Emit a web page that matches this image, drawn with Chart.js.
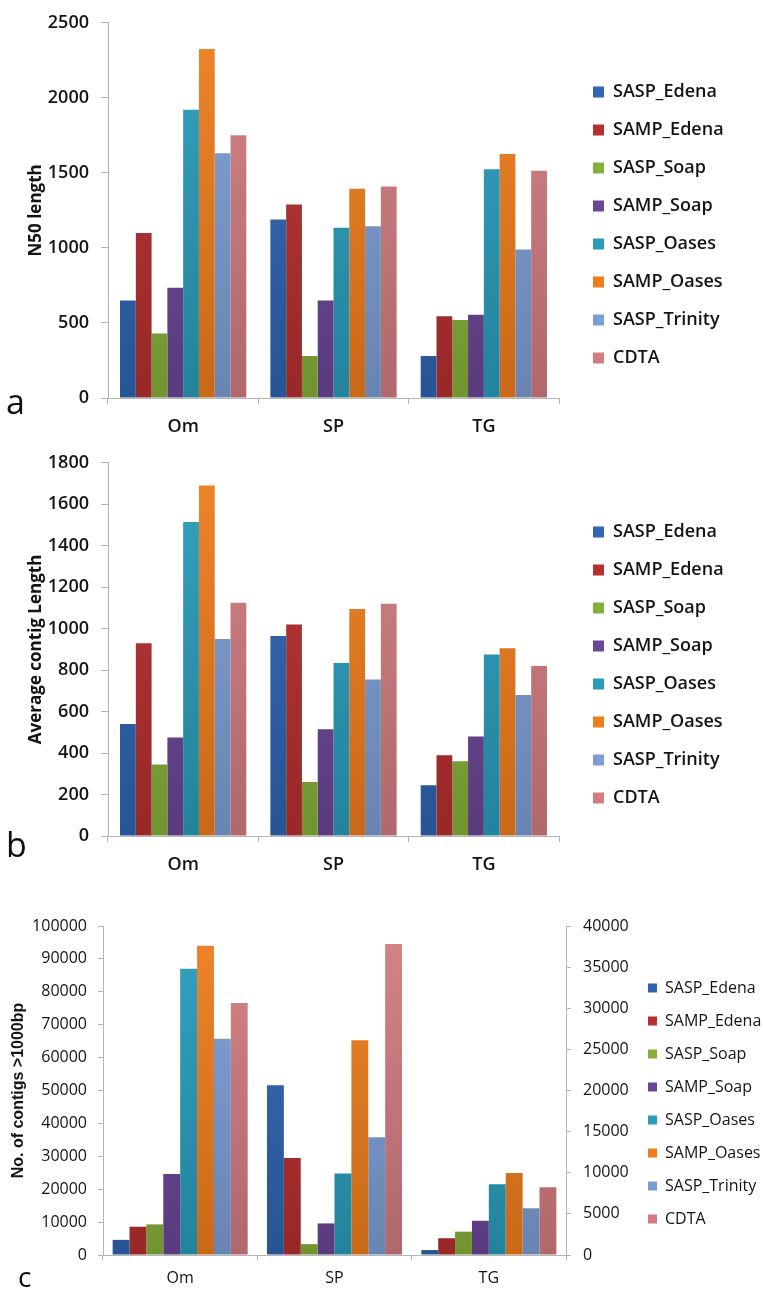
<!DOCTYPE html>
<html>
<head>
<meta charset="utf-8">
<script src="https://cdn.jsdelivr.net/npm/chart.js@4.4.0/dist/chart.umd.min.js"></script>
<style>
  html, body { margin: 0; padding: 0; background: #fff; }
  body { width: 763px; height: 1291px; position: relative; overflow: hidden; }
  canvas { position: absolute; left: 0; }
  .tag { position: absolute; font-family: "Open Sans"; line-height: 1; color: #111; }
</style>
</head>
<body>
<canvas id="chartA" width="800" height="440" style="top:0"></canvas>
<canvas id="chartB" width="800" height="440" style="top:440px"></canvas>
<canvas id="chartC" width="800" height="411" style="top:880px"></canvas>
<div class="tag" style="left:6px;top:384px;font-size:34px">a</div>
<div class="tag" style="left:6px;top:827px;font-size:34px">b</div>
<div class="tag" style="left:18px;top:1262px;font-size:28px">c</div>

<script>
// categories and series
const groups = ['Om', 'SP', 'TG'];
const assemblers = ['SASP_Edena', 'SAMP_Edena', 'SASP_Soap', 'SAMP_Soap',
                    'SASP_Oases', 'SAMP_Oases', 'SASP_Trinity', 'CDTA'];
const barColors = ['#2f64b0', '#b52f2f', '#86b03a', '#6a4696',
                   '#2a9cbb', '#ee7d1c', '#7c9dd4', '#d27c7f'];

// a: N50 length (one row per group, values in assembler order)
const n50Om = [650, 1100, 430, 735, 1920, 2325, 1630, 1750];
const n50SP = [1190, 1290, 280, 650, 1135, 1395, 1145, 1410];
const n50TG = [280, 545, 520, 555, 1525, 1625, 990, 1515];
const n50Ticks = [0, 500, 1000, 1500, 2000, 2500];

// b: average contig length
const avgOm = [540, 930, 345, 475, 1515, 1690, 950, 1125];
const avgSP = [965, 1020, 260, 515, 835, 1095, 755, 1120];
const avgTG = [245, 390, 360, 480, 875, 905, 680, 820];
const avgTicks = [0, 200, 400, 600, 800, 1000, 1200, 1400, 1600, 1800];

// c: number of contigs > 1000bp
const cntOm = [4600, 8600, 9300, 24600, 87000, 94000, 65700, 76600];
const cntSP = [51600, 29500, 3300, 9600, 24800, 65300, 35800, 94500];
const cntTG = [1500, 5100, 7100, 10400, 21500, 24900, 14200, 20600];
const cntTicks = [0, 10000, 20000, 30000, 40000, 50000, 60000, 70000, 80000, 90000, 100000];
const cntTicksRight = [0, 5000, 10000, 15000, 20000, 25000, 30000, 35000, 40000];

const axisGrey = '#b4b4b4';
const ink = '#141414';
const canvasW = 800;

// scale a hex colour's channels, f > 1 lighter, f < 1 darker
function shade(hex, f) {
  const n = parseInt(hex.slice(1), 16);
  const ch = [(n >> 16) & 255, (n >> 8) & 255, n & 255]
    .map(c => Math.round(f > 1 ? c + (255 - c) * (f - 1) : c * f));
  return 'rgb(' + ch.join(',') + ')';
}

// excel-like fill: a bit lighter at the top, darker near the axis
function barFill(base) {
  return function (ctx) {
    const area = ctx.chart.chartArea;
    if (!area) return base;
    const g = ctx.chart.ctx.createLinearGradient(0, area.top, 0, area.bottom);
    g.addColorStop(0, shade(base, 1.06));
    g.addColorStop(1, shade(base, 0.84));
    return g;
  };
}

function datasetsFrom(rows, catPct) {
  return assemblers.map((name, i) => ({
    label: name,
    data: rows.map(r => r[i]),
    backgroundColor: barFill(barColors[i]),
    borderWidth: 0,
    yAxisID: 'y',
    categoryPercentage: catPct,
    barPercentage: 1
  }));
}

function setTicks(list) {
  return function (scale) { scale.ticks = list.map(v => ({ value: v })); };
}
const plain = v => String(v);

// legend boxes use the flat colour
function flatLabels(chart) {
  const items = Chart.defaults.plugins.legend.labels.generateLabels(chart);
  items.forEach((it, i) => { it.fillStyle = barColors[i]; it.lineWidth = 0; });
  return items;
}

// width the legend box will take, so its left edge can be put where we want it
function legendRoom(font, boxW, pad) {
  const c = document.createElement('canvas').getContext('2d');
  c.font = 'normal ' + (font.weight ? font.weight + ' ' : '') + font.size + 'px ' + font.family;
  const widest = Math.max(...assemblers.map(t => c.measureText(t).width));
  return pad + boxW + font.size / 2 + widest + 10;
}

// panels a and b share the same look
function topPanel(id, rows, ticks, title, pad, xHeight, legendTop) {
  const lFont = { family: 'Open Sans', size: 18, weight: '600' };
  const rightPad = canvasW - 573 - legendRoom(lFont, 11, 20);
  new Chart(document.getElementById(id), {
    type: 'bar',
    data: { labels: groups, datasets: datasetsFrom(rows, 0.84) },
    options: {
      responsive: false,
      animation: false,
      layout: { padding: { left: 0, right: rightPad, top: pad, bottom: 0 } },
      scales: {
        y: {
          position: 'left',
          min: 0,
          max: ticks[ticks.length - 1],
          afterBuildTicks: setTicks(ticks),
          afterFit: s => { s.width = 108; },
          grid: { drawOnChartArea: false, tickLength: 7, color: axisGrey },
          border: { color: axisGrey },
          ticks: { padding: 12, color: ink, callback: plain,
                   font: { family: 'Open Sans', size: 18, weight: '600' } },
          title: {
            display: true, text: title, color: ink,
            font: { family: 'Open Sans', size: 17, weight: 'bold' },
            padding: { top: 26, bottom: 0 }
          }
        },
        gap: {
          type: 'linear',
          position: 'right',
          afterFit: s => { s.width = 14; },
          grid: { display: false },
          border: { display: false },
          ticks: { display: false }
        },
        x: {
          afterFit: s => { s.height = xHeight; },
          grid: { drawOnChartArea: false, tickLength: 6, color: axisGrey },
          border: { color: axisGrey },
          ticks: { padding: 12, color: ink, font: { family: 'Open Sans', size: 18, weight: '600' } }
        }
      },
      plugins: {
        tooltip: { enabled: false },
        legend: {
          position: 'right',
          align: 'start',
          maxWidth: 400,
          // empty title only used as top spacing for the legend column
          title: { display: true, text: '', font: { size: 10 }, padding: { top: legendTop - 12, bottom: 0 } },
          labels: { boxWidth: 11, boxHeight: 11, padding: 20, color: ink, font: lFont,
                    generateLabels: flatLabels }
        }
      }
    }
  });
}

topPanel('chartA', [n50Om, n50SP, n50TG], n50Ticks, 'N50 length', 22, 42, 41);
topPanel('chartB', [avgOm, avgSP, avgTG], avgTicks, 'Average contig Length', 19, 44, 44);

// panel c with the extra right-hand axis
const cFont = { family: 'Open Sans', size: 16 };
new Chart(document.getElementById('chartC'), {
  type: 'bar',
  data: { labels: groups, datasets: datasetsFrom([cntOm, cntSP, cntTG], 0.875) },
  options: {
    responsive: false,
    animation: false,
    layout: { padding: { left: 0, right: canvasW - 631 - legendRoom(cFont, 9, 17), top: 46, bottom: 0 } },
    scales: {
      y: {
        position: 'left',
        min: 0,
        max: cntTicks[cntTicks.length - 1],
        afterBuildTicks: setTicks(cntTicks),
        afterFit: s => { s.width = 103; },
        grid: { drawOnChartArea: false, tickLength: 5, color: axisGrey },
        border: { color: axisGrey },
        ticks: { padding: 11, color: ink, callback: plain, font: cFont },
        title: {
          display: true, text: 'No. of contigs >1000bp', color: ink,
          font: { family: 'Liberation Sans', size: 16, weight: 'bold' },
          padding: { top: 9, bottom: 0 }
        }
      },
      y2: {
        type: 'linear',
        position: 'right',
        min: 0,
        max: cntTicksRight[cntTicksRight.length - 1],
        afterBuildTicks: setTicks(cntTicksRight),
        afterFit: s => { s.width = 65; },
        grid: { drawOnChartArea: false, tickLength: 5, color: axisGrey },
        border: { color: axisGrey },
        ticks: { padding: 12, color: ink, callback: plain, font: cFont }
      },
      x: {
        afterFit: s => { s.height = 36; },
        grid: { drawOnChartArea: false, tickLength: 5, color: axisGrey },
        border: { color: axisGrey },
        ticks: { padding: 9, color: ink, font: cFont }
      }
    },
    plugins: {
      tooltip: { enabled: false },
      legend: {
        position: 'right',
        align: 'start',
        maxWidth: 400,
        title: { display: true, text: '', font: { size: 10 }, padding: { top: 25, bottom: 0 } },
        labels: { boxWidth: 9, boxHeight: 9, padding: 17, color: ink, font: cFont,
                  generateLabels: flatLabels }
      }
    }
  }
});
</script>
</body>
</html>
